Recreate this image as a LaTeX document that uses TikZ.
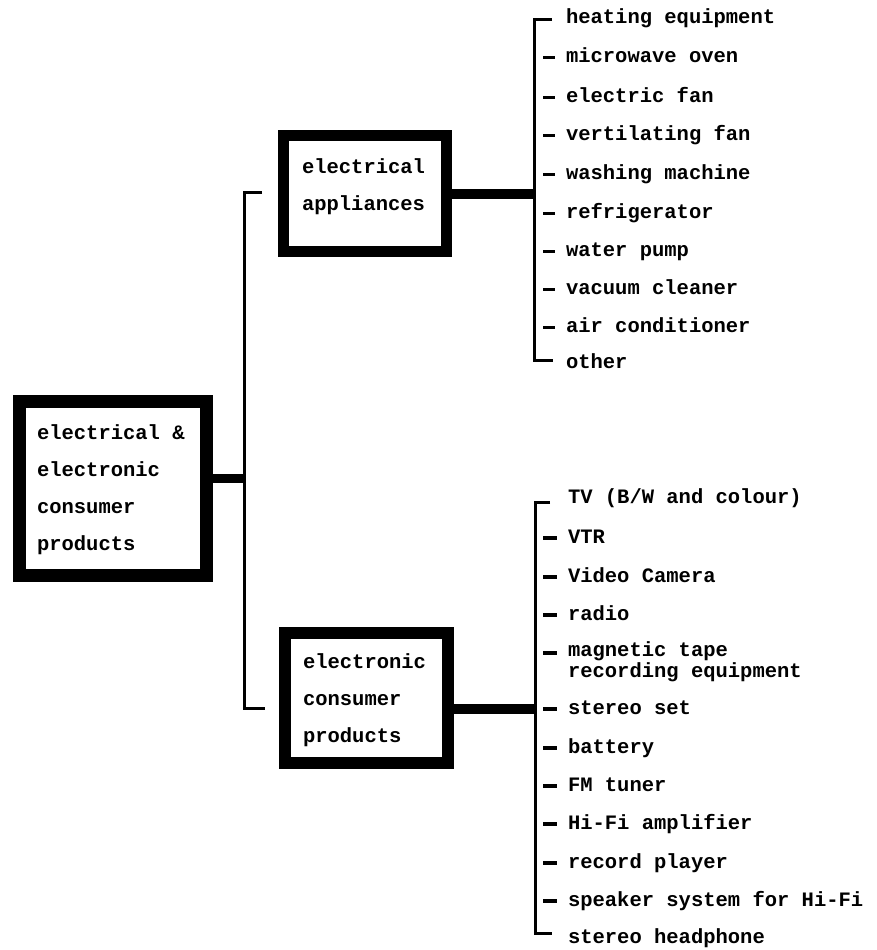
\documentclass[tikz,border=0pt]{standalone}
\usepackage{fontspec}
\setmainfont{Liberation Mono}
\begin{document}
\begin{tikzpicture}[x=1pt,y=-1pt,
  every node/.style={inner sep=0pt,outer sep=0pt},
  item/.style={anchor=west,font=\fontsize{20.5}{18}\bfseries\selectfont,text height=14pt,text depth=4pt},
  item2/.style={anchor=north west,align=left,font=\fontsize{20.5}{18}\bfseries\selectfont},
  boxtext/.style={anchor=west,align=left,font=\fontsize{20.5}{37}\bfseries\selectfont},
  bigbox/.style={draw,line width=#1},
  stub/.style={line width=10pt},
  vline/.style={line width=3pt},
  tick/.style={line width=3pt},
  tickb/.style={line width=4pt}]
\useasboundingbox (0,0) rectangle (877,950);

% boxes
\node[bigbox=13pt,minimum width=187pt,minimum height=174pt] (main) at (113,488.5) {};
\node[boxtext] (mainT) at (37,490) {electrical \&\\electronic\\consumer\\products};
\node[bigbox=11pt,minimum width=163pt,minimum height=116pt] (app) at (365,193.5) {};
\node[boxtext] (appT) at (302,186.5) {electrical\\appliances};
\node[bigbox=12pt,minimum width=163pt,minimum height=130pt] (elec) at (366.5,698) {};
\node[boxtext] (elecT) at (303,700) {electronic\\consumer\\products};

% main connector
\coordinate (mstub) at (206.5,478);
\coordinate (vt) at (244,192);
\coordinate (vb) at (244,708);
\coordinate (ht) at (262,192);
\coordinate (hb) at (265,708);
\draw[line width=9pt] (mstub) -- (mstub -| vt);
\draw[vline] (ht) -- (vt) -- (vb) -- (hb);

% appliance items
\node[item] (a1) at (566,19) {heating equipment};
\node[item] (a2) at (566,58) {microwave oven};
\node[item] (a3) at (566,97) {electric fan};
\node[item] (a4) at (566,135) {vertilating fan};
\node[item] (a5) at (566,174) {washing machine};
\node[item] (a6) at (566,213) {refrigerator};
\node[item] (a7) at (566,251) {water pump};
\node[item] (a8) at (566,289) {vacuum cleaner};
\node[item] (a9) at (566,327) {air conditioner};
\node[item] (a10) at (566,363) {other};
\coordinate (at1) at (552,20);
\coordinate (at2) at (534,20);
\coordinate (ab2) at (534,360);
\coordinate (ab1) at (553,360);
\draw[vline] (at1) -- (at2) -- (ab2) -- (ab1);
\foreach \n in {a2,a3,a4,a5,a6,a7,a8,a9}
  \draw[tick] ([xshift=-23pt]\n.west) -- ([xshift=-11pt]\n.west);
\draw[stub] (app.east) -- (app.east -| at2);

% electronic items
\node[item] (e1) at (568,498) {TV (B/W and colour)};
\node[item] (e2) at (568,538) {VTR};
\node[item] (e3) at (568,577) {Video Camera};
\node[item] (e4) at (568,615) {radio};
\node[item2] (e5) at (568,642) {magnetic tape\\recording equipment};
\node[item] (e6) at (568,709) {stereo set};
\node[item] (e7) at (568,748) {battery};
\node[item] (e8) at (568,786) {FM tuner};
\node[item] (e9) at (568,824) {Hi-Fi amplifier};
\node[item] (e10) at (568,863) {record player};
\node[item] (e11) at (568,901) {speaker system for Hi-Fi};
\node[item] (e12) at (568,938) {stereo headphone};
\coordinate (et1) at (550,502);
\coordinate (et2) at (535,502);
\coordinate (eb2) at (535,933);
\coordinate (eb1) at (552,933);
\draw[vline] (et1) -- (et2) -- (eb2) -- (eb1);
\foreach \n in {e2,e3,e4,e6,e7,e8,e9,e10,e11}
  \draw[tickb] ([xshift=-25pt]\n.west) -- ([xshift=-11pt]\n.west);
\draw[tickb] ([xshift=-25pt,yshift=-11pt]e5.north west) -- ([xshift=-11pt,yshift=-11pt]e5.north west);
\coordinate (estub) at (448,709);
\draw[stub] (estub) -- (estub -| et2);
\end{tikzpicture}
\end{document}
